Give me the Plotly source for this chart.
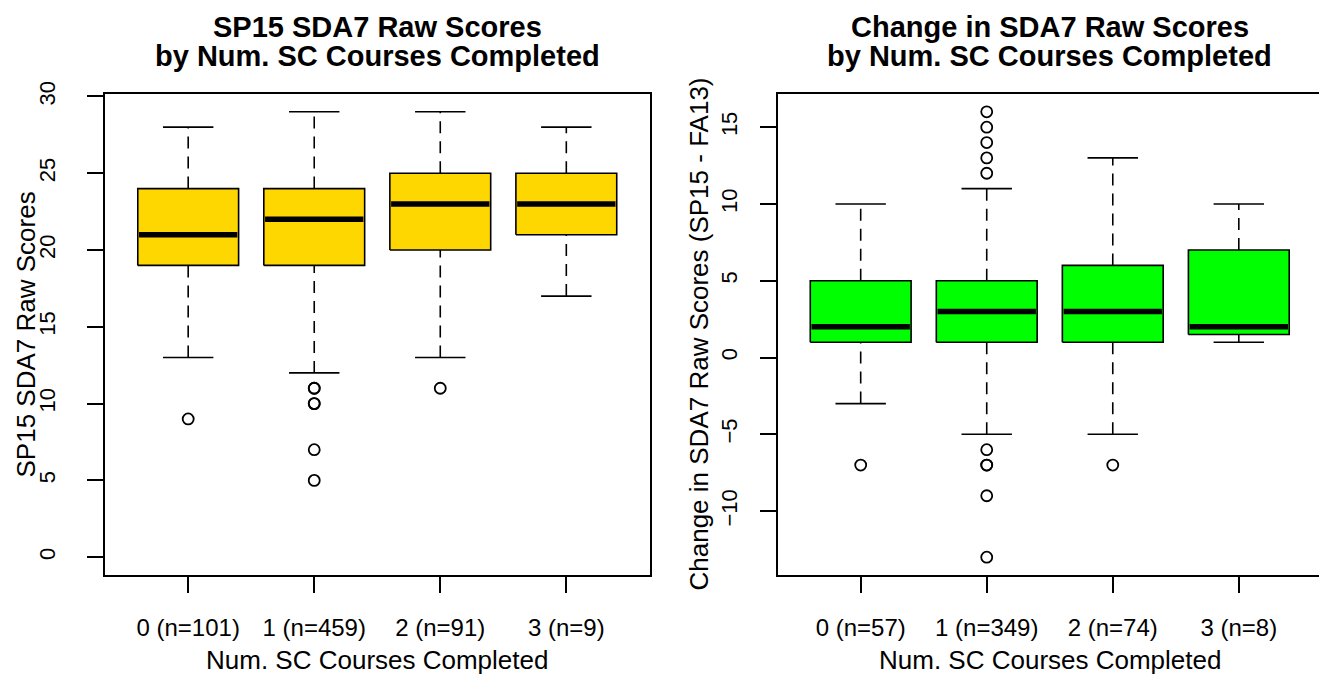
import plotly.graph_objects as go

# ---- data -------------------------------------------------------------
groups = ["0", "1", "2", "3"]

# SP15 raw scores: five-number summaries per group
sp15_labels = ["0 (n=101)", "1 (n=459)", "2 (n=91)", "3 (n=9)"]
sp15_low = [13, 12, 13, 17]
sp15_q1 = [19, 19, 20, 21]
sp15_med = [21, 22, 23, 23]
sp15_q3 = [24, 24, 25, 25]
sp15_high = [28, 29, 29, 28]
sp15_out = [[9], [11, 11, 10, 10, 7, 5], [11], []]

# change in raw scores (SP15 - FA13)
chg_labels = ["0 (n=57)", "1 (n=349)", "2 (n=74)", "3 (n=8)"]
chg_low = [-3, -5, -5, 1]
chg_q1 = [1, 1, 1, 1.5]
chg_med = [2, 3, 3, 2]
chg_q3 = [5, 5, 6, 7]
chg_high = [10, 11, 13, 10]
chg_out = [[-7], [16, 15, 14, 13, 12, -6, -7, -7, -9, -13], [-7], []]

# ---- style ------------------------------------------------------------
FONT = "Liberation Sans, Arial, Helvetica, sans-serif"
W, H = 1319, 677
BOX_HALF = 0.4
CAP_HALF = 0.2
LW = 1.6


def add_boxes(fig, low, q1, med, q3, high, outs, fill, xa, ya):
    for i in range(len(low)):
        c = i + 1
        # dashed whiskers
        fig.add_trace(go.Scatter(
            x=[c, c, None, c, c], y=[low[i], q1[i], None, q3[i], high[i]],
            mode="lines", line=dict(color="black", width=LW, dash="12px,8px"),
            xaxis=xa, yaxis=ya, hoverinfo="skip", showlegend=False))
        # staples
        fig.add_trace(go.Scatter(
            x=[c - CAP_HALF, c + CAP_HALF, None, c - CAP_HALF, c + CAP_HALF],
            y=[low[i], low[i], None, high[i], high[i]],
            mode="lines", line=dict(color="black", width=LW),
            xaxis=xa, yaxis=ya, hoverinfo="skip", showlegend=False))
        # box
        fig.add_trace(go.Scatter(
            x=[c - BOX_HALF, c + BOX_HALF, c + BOX_HALF, c - BOX_HALF, c - BOX_HALF],
            y=[q1[i], q1[i], q3[i], q3[i], q1[i]],
            mode="lines", fill="toself", fillcolor=fill,
            line=dict(color="black", width=LW),
            xaxis=xa, yaxis=ya, hoverinfo="skip", showlegend=False))
        # median
        fig.add_trace(go.Scatter(
            x=[c - BOX_HALF + 0.01, c + BOX_HALF - 0.01], y=[med[i], med[i]],
            mode="lines", line=dict(color="black", width=5.5),
            xaxis=xa, yaxis=ya, hoverinfo="skip", showlegend=False))
        # outliers
        if outs[i]:
            fig.add_trace(go.Scatter(
                x=[c] * len(outs[i]), y=outs[i], mode="markers",
                marker=dict(symbol="circle-open", size=11, color="black",
                            line=dict(width=1.8, color="black")),
                xaxis=xa, yaxis=ya, hoverinfo="skip", showlegend=False))


fig = go.Figure()
add_boxes(fig, sp15_low, sp15_q1, sp15_med, sp15_q3, sp15_high, sp15_out,
          "#FFD700", "x", "y")
add_boxes(fig, chg_low, chg_q1, chg_med, chg_q3, chg_high, chg_out,
          "#00FF00", "x2", "y2")

# plot regions in pixels
L_LEFT, L_RIGHT = 105, 649.5
R_LEFT = 777.5
TOP, BOTTOM = 94, 575
UNIT = (L_RIGHT - L_LEFT) / 4.32
ydom = [(H - BOTTOM) / H, (H - TOP) / H]

axis_common = dict(showgrid=False, zeroline=False, showline=True,
                   automargin=False,
                   linecolor="black", linewidth=LW, ticks="outside",
                   ticklen=16, tickwidth=LW, tickcolor="black")
xtick_font = dict(family=FONT, size=24, color="black")
ytick_font = dict(family=FONT, size=22, color="black")

fig.update_layout(
    width=W, height=H, margin=dict(l=0, r=0, t=0, b=0, autoexpand=False),
    paper_bgcolor="white", plot_bgcolor="white",
    xaxis=dict(domain=[L_LEFT / W, L_RIGHT / W], range=[0.34, 4.66],
               tickvals=[1, 2, 3, 4], ticktext=sp15_labels, mirror=True,
               anchor="y", ticklabelstandoff=14, tickfont=xtick_font,
               **axis_common),
    yaxis=dict(domain=ydom, range=[-1.16, 30.16],
               tickvals=[0, 5, 10, 15, 20, 25, 30], tickangle=-90,
               mirror=True, anchor="x", ticklabelstandoff=23,
               tickfont=ytick_font, **axis_common),
    xaxis2=dict(domain=[R_LEFT / W, 1.0],
                range=[0.34, 0.34 + (W - R_LEFT) / UNIT],
                tickvals=[1, 2, 3, 4], ticktext=chg_labels, mirror=True,
                anchor="y2", ticklabelstandoff=14, tickfont=xtick_font,
                **axis_common),
    yaxis2=dict(domain=ydom, range=[-14.16, 17.16],
                tickvals=[-10, -5, 0, 5, 10, 15], tickangle=-90,
                mirror=False, anchor="x2", ticklabelstandoff=14,
                tickfont=ytick_font, **axis_common),
)


def px_x(v):
    return v / W


def px_y(v):
    return 1 - v / H


ann = []
title_font = dict(family=FONT, size=29, color="black")
for cx, l1 in [((L_LEFT + L_RIGHT) / 2, "<b>SP15 SDA7 Raw Scores</b>"),
               ((R_LEFT + W + 2.8) / 2, "<b>Change in SDA7 Raw Scores</b>")]:
    ann.append(dict(x=px_x(cx), y=px_y(27), text=l1, showarrow=False,
                    xref="paper", yref="paper", xanchor="center",
                    yanchor="middle", font=title_font))
    ann.append(dict(x=px_x(cx), y=px_y(56),
                    text="<b>by Num. SC Courses Completed</b>", showarrow=False,
                    xref="paper", yref="paper", xanchor="center",
                    yanchor="middle", font=title_font))

lab_font = dict(family=FONT, size=26, color="black")
for cx in [(L_LEFT + L_RIGHT) / 2, (R_LEFT + W + 2.8) / 2]:
    ann.append(dict(x=px_x(cx), y=px_y(660), text="Num. SC Courses Completed",
                    showarrow=False, xref="paper", yref="paper",
                    xanchor="center", yanchor="middle", font=lab_font))

ann.append(dict(x=px_x(25), y=px_y((TOP + BOTTOM) / 2),
                text="SP15 SDA7 Raw Scores", textangle=-90, showarrow=False,
                xref="paper", yref="paper", xanchor="center",
                yanchor="middle", font=lab_font))
ann.append(dict(x=px_x(698), y=px_y((TOP + BOTTOM) / 2),
                text="Change in SDA7 Raw Scores (SP15 - FA13)", textangle=-90,
                showarrow=False, xref="paper", yref="paper", xanchor="center",
                yanchor="middle", font=lab_font))

fig.update_layout(annotations=ann)
fig.write_html("out.html")
